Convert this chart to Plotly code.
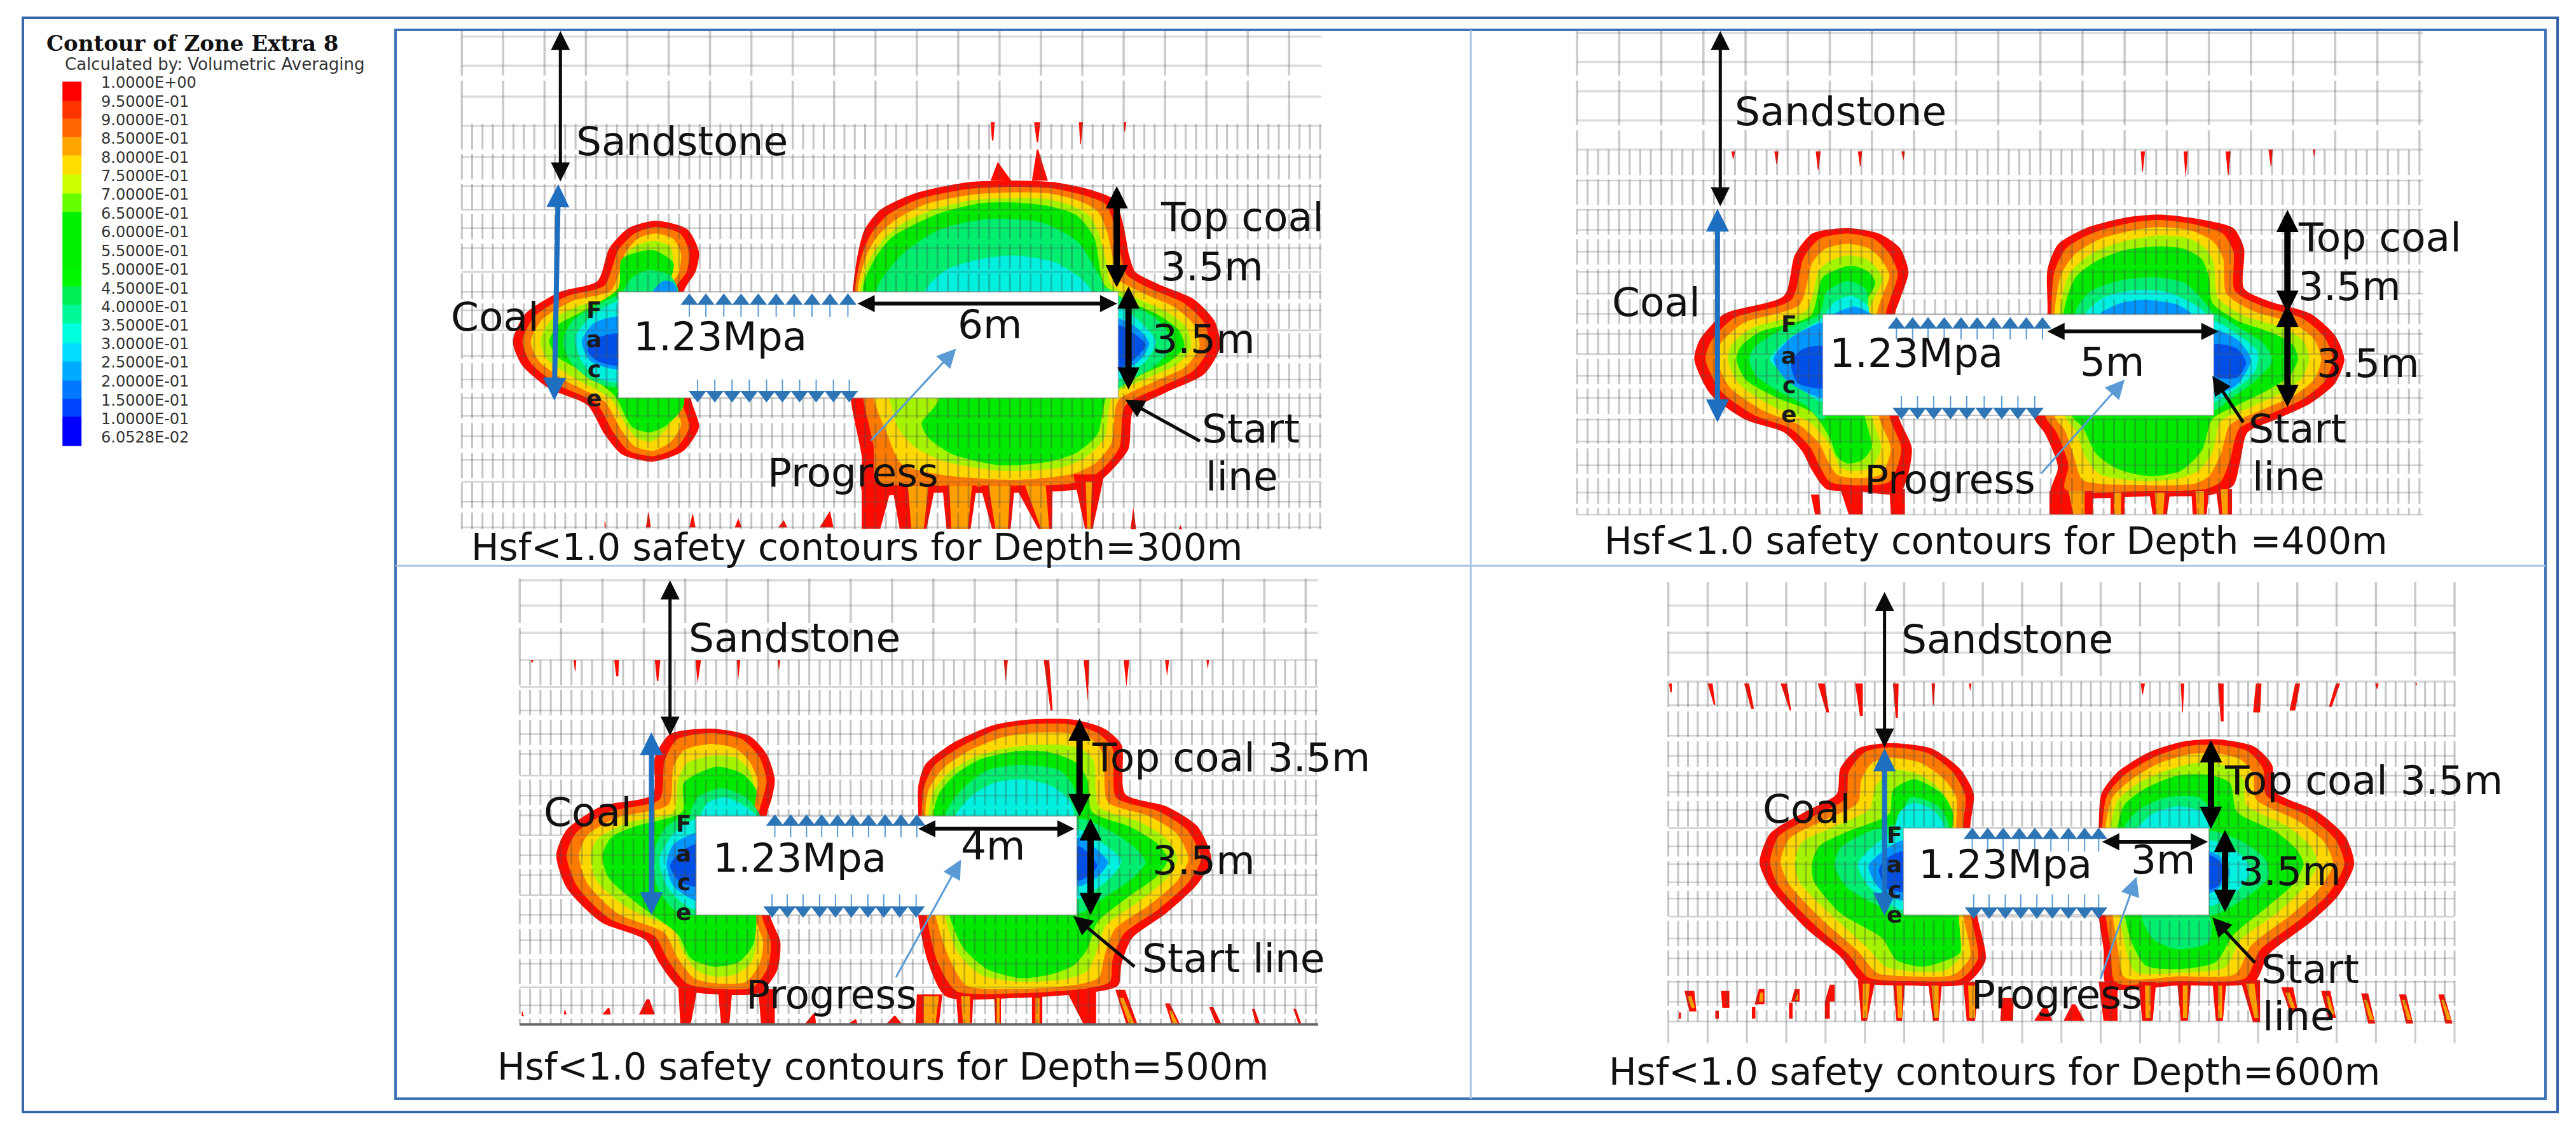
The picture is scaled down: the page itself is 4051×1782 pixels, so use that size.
"""Hsf<1.0 safety contours for four depths, drawn as filled outlines on a mesh."""
import plotly.graph_objects as go

W, H = 4051, 1782
UNITS = 1568
TEXT_FONT = "DejaVu Sans"

LEGEND_TITLE = "Contour of Zone Extra 8"
LEGEND_SUB = "Calculated by: Volumetric Averaging"
LEGEND_LABELS = ["1.0000E+00", "9.5000E-01", "9.0000E-01", "8.5000E-01", "8.0000E-01",
                 "7.5000E-01", "7.0000E-01", "6.5000E-01", "6.0000E-01", "5.5000E-01",
                 "5.0000E-01", "4.5000E-01", "4.0000E-01", "3.5000E-01", "3.0000E-01",
                 "2.5000E-01", "2.0000E-01", "1.5000E-01", "1.0000E-01", "6.0528E-02"]
LEGEND_Y = [268, 330, 390, 450, 512, 572, 632, 693, 754, 815, 875, 936, 996, 1057,
            1117, 1177, 1238, 1300, 1360, 1420]
LEGEND_EDGES = [265, 327, 385, 445, 505, 567, 628, 688, 750, 810, 870, 930, 990, 1050,
                1112, 1172, 1235, 1295, 1352, 1447]
LEGEND_COLORS = ["#ff0000", "#ff3300", "#ff6600", "#ffa500", "#ffdd00", "#ccff00", "#66ff00",
                 "#00f000", "#00f000", "#00f000", "#00f800", "#00ee55", "#00f899", "#00ffdd",
                 "#00ddff", "#00aaff", "#0077ff", "#0044ff", "#0000ff"]

BAND_COLORS = {"r": "#ff0c00", "o": "#ff7a00", "y": "#ffd800", "l": "#a4f400", "g": "#00ea00",
               "t": "#00ee70", "c": "#00f0e0", "s": "#0096ff", "b": "#0050e8"}
DRIP_CORE = "#ffa000"

# ---- depth 300 ----
LEFT_300 = [
    ("r", [(380,605),(425,628),(442,690),(437,745),(420,800),(430,1090),(442,1170),(420,1235),(375,1265),(330,1245),(305,1190),(280,1110),(225,1065),(185,1000),(172,935),(190,860),(240,800),(295,770),(312,680),(340,625)]),
    ("o", [(380,622),(415,640),(428,692),(424,745),(405,800),(415,1090),(428,1170),(410,1225),(375,1250),(340,1235),(318,1185),(293,1105),(238,1055),(198,995),(186,935),(203,868),(250,812),(305,782),(325,685),(350,638)]),
    ("y", [(380,640),(405,655),(416,695),(412,750),(395,800),(405,1090),(416,1165),(400,1212),(375,1235),(348,1222),(330,1180),(305,1100),(250,1045),(210,990),(198,935),(215,875),(258,825),(315,795),(336,690),(355,652)]),
    ("l", [(378,660),(400,675),(404,700),(400,760),(390,800),(395,1090),(400,1160),(385,1195),(372,1210),(352,1200),(338,1170),(315,1095),(260,1035),(222,985),(212,935),(226,880),(268,838),(322,808),(335,700),(352,672)]),
    ("g", [(375,685),(405,720),(402,760),(395,800),(420,1110),(395,1165),(370,1185),(345,1170),(320,1085),(275,1020),(235,975),(225,935),(238,890),(275,852),(325,790),(330,710)]),
    ("t", [(370,740),(400,755),(412,800),(325,1060),(285,1040),(255,990),(245,935),(258,880),(290,840),(330,800),(345,760)]),
    ("c", [(330,825),(290,860),(262,925),(275,1000),(300,1040),(330,1045)]),
    ("s", [(330,870),(290,885),(272,935),(285,990),(330,1010)]),
    ("b", [(330,915),(290,930),(280,960),(295,990),(330,1000)]),
    ("s", [(390,770),(405,775),(410,800),(375,800)]),
]
RIGHT_300 = [
    ("r", [(665,800),(672,700),(682,630),(705,575),(755,530),(830,500),(900,495),(960,500),(1010,520),(1045,548),(1058,620),(1066,700),(1075,745),(1110,780),(1160,820),(1190,880),(1198,950),(1175,1025),(1120,1075),(1072,1125),(1065,1230),(1040,1290),(1010,1335),(900,1350),(780,1350),(680,1350),(678,1250),(662,1090)]),
    ("o", [(668,800),(678,700),(692,640),(715,590),(762,545),(835,517),(900,512),(955,516),(1000,535),(1032,560),(1046,625),(1054,700),(1062,752),(1098,792),(1145,830),(1175,885),(1182,950),(1160,1015),(1110,1062),(1060,1112),(1052,1225),(1030,1280),(1000,1318),(900,1335),(780,1330),(700,1320),(695,1220),(680,1090)]),
    ("y", [(672,800),(684,705),(700,650),(725,605),(770,560),(840,533),(900,527),(950,530),(990,548),(1020,578),(1034,635),(1042,705),(1050,765),(1088,805),(1132,842),(1160,890),(1168,950),(1148,1005),(1100,1048),(1050,1098),(1040,1215),(1018,1268),(985,1298),(900,1315),(790,1300),(735,1270),(715,1190),(695,1090)]),
    ("l", [(676,800),(690,710),(710,655),(735,615),(780,575),(840,548),(900,543),(945,545),(985,565),(1010,595),(1022,640),(1032,710),(1040,780),(1078,818),(1118,852),(1148,895),(1156,950),(1136,998),(1090,1038),(1042,1085),(1030,1200),(1005,1250),(970,1280),(880,1290),(800,1265),(755,1225),(730,1170),(718,1090)]),
    ("g", [(680,800),(697,710),(722,650),(790,585),(850,557),(900,555),(950,565),(990,590),(1015,650),(1030,780),(1065,825),(1110,865),(1138,905),(1146,950),(1125,990),(1080,1030),(1035,1080),(1020,1190),(990,1240),(950,1265),(880,1275),(810,1245),(775,1200),(765,1160),(790,1090)]),
    ("t", [(700,800),(735,700),(790,630),(860,600),(940,610),(990,660),(1015,730),(1030,800)]),
    ("c", [(770,800),(800,740),(850,710),(900,700),(960,720),(1000,770),(1010,800)]),
    ("t", [(1030,790),(1065,830),(1110,880),(1130,945),(1105,1000),(1070,1040),(1035,1075)]),
    ("c", [(1040,830),(1075,870),(1105,935),(1090,990),(1060,1030),(1040,1050)]),
    ("s", [(1040,870),(1075,895),(1095,940),(1080,990),(1040,1020)]),
    ("b", [(1040,885),(1070,910),(1090,945),(1070,990),(1040,1015)]),
]
# spikes: x top-left, x top-right, y top, x bottom-left, x bottom-right, y bottom
SPIKES_300 = [(865,871,335,867,869,385),(928,937,335,932,934,390),(993,999,335,995,996,395),(1058,1062,335,1059,1060,360),
              (925,948,495,932,934,410),(865,895,495,875,876,445),
              (305,307,1445,305,306,1430),(365,372,1445,369,369,1400),(428,437,1445,433,433,1405),(494,504,1445,499,499,1420),(557,570,1445,565,565,1425),(617,637,1445,632,632,1400),
              (1068,1076,1450,1072,1072,1390),(1138,1143,1450,1140,1140,1438),
              (678,722,1330,678,705,1449),(722,785,1330,733,772,1449),(795,845,1330,801,836,1449),(850,900,1330,867,894,1449),(900,955,1330,934,954,1449),(985,1030,1300,1002,1013,1449)]
INNER_300 = [(745,775,1330,750,768,1449),(805,838,1330,808,832,1449),(862,894,1330,872,890,1449),(915,945,1330,938,950,1449),(1003,1012,1320,1005,1010,1449)]
CAVITY_300 = [325, 1050, 800, 1090]
PRESS_TOP_300 = [428, 452, 478, 503, 528, 554, 580, 606, 632, 658]
PRESS_BOT_300 = [440, 465, 490, 515, 540, 563, 588, 612, 637, 660]
PRESS_Y_300 = [868, 825, 1040, 1082]
ARROWS_300 = [(241, 500, 241, 85, "dim"), (232, 1100, 238, 505, "coal"), (1048, 790, 1048, 510, "thick"),
              (1065, 1070, 1065, 785, "thick"), (1050, 832, 672, 832, "width"),
              (1170, 1210, 1060, 1095, "lead"), (690, 1210, 815, 955, "prog")]
TEXTS_300 = [("Sandstone", 262, 388), ("Top coal", 1110, 595), ("3.5m", 1110, 730), ("Coal", 80, 868),
             ("1.23Mpa", 345, 922), ("6m", 815, 890), ("3.5m", 1098, 930), ("Progress", 540, 1295),
             ("Start", 1170, 1175), ("line", 1175, 1305)]
FACE_X_300, FACE_Y_300 = 290, [850, 930, 1012, 1092]
CAPTION_300 = ("Hsf<1.0 safety contours for Depth=300m", 110, 1500)
MESH_300 = dict(x=[98, 1345], top=85, mid=340, bot=1450, fine=(98, 1345, 15), floor=None, tail=None,
                coarse_h=[100, 180, 265, 345],
                fine_h=[430, 510, 575, 625, 680, 745, 800, 850, 905, 975, 1040, 1090, 1140, 1195, 1260, 1320, 1375, 1445])

# ---- depth 400 ----
LEFT_400 = [
    ("r", [(530,625),(575,640),(605,680),(617,745),(605,820),(598,860),(603,1140),(622,1230),(605,1350),(540,1345),(500,1340),(480,1290),(465,1235),(440,1185),(385,1150),(335,1080),(312,985),(320,930),(355,860),(440,810),(455,700),(480,640)]),
    ("o", [(530,640),(568,655),(590,695),(602,750),(592,815),(585,860),(590,1140),(607,1230),(590,1320),(540,1330),(505,1320),(490,1275),(477,1225),(450,1175),(398,1138),(350,1072),(328,985),(336,935),(368,872),(450,822),(468,705),(490,655)]),
    ("y", [(530,668),(560,680),(578,710),(590,755),(580,810),(572,860),(575,1140),(592,1230),(578,1300),(540,1310),(515,1300),(502,1262),(490,1215),(462,1165),(410,1125),(362,1060),(344,985),(350,940),(382,885),(462,835),(480,720),(498,682)]),
    ("l", [(530,700),(555,708),(570,730),(580,765),(570,810),(560,860),(565,1140),(578,1225),(565,1280),(535,1290),(520,1280),(512,1250),(500,1205),(475,1155),(422,1112),(375,1050),(360,985),(365,945),(395,898),(472,850),(490,740),(505,715)]),
    ("g", [(535,728),(560,745),(570,775),(560,815),(550,860),(555,1140),(565,1225),(550,1262),(530,1270),(515,1250),(505,1200),(480,1130),(430,1090),(385,1040),(372,985),(378,950),(405,910),(478,865),(495,760)]),
    ("t", [(530,770),(555,790),(560,830),(550,860),(495,1150),(470,1110),(430,1070),(400,1030),(390,985),(398,950),(430,910),(490,860),(500,800)]),
    ("c", [(535,810),(560,840),(560,865),(495,1100),(450,1040),(420,985),(445,930),(495,870),(510,830)]),
    ("s", [(500,885),(450,925),(425,985),(445,1045),(500,1090)]),
    ("b", [(500,950),(465,958),(450,1000),(460,1050),(500,1062)]),
    ("s", [(540,840),(565,862),(510,862)]),
]
RIGHT_400 = [
    ("r", [(815,860),(815,740),(830,670),(870,625),(930,595),(975,588),(1030,600),(1080,625),(1095,680),(1095,790),(1130,825),(1190,860),(1225,920),(1238,985),(1225,1050),(1190,1105),(1140,1150),(1100,1185),(1090,1260),(1080,1330),(1050,1355),(960,1360),(820,1355),(830,1280),(812,1190),(795,1140)]),
    ("o", [(820,860),(825,745),(842,680),(880,638),(935,610),(975,603),(1025,615),(1065,640),(1080,690),(1082,797),(1120,838),(1178,872),(1210,925),(1222,985),(1210,1045),(1178,1095),(1128,1138),(1088,1175),(1076,1255),(1062,1320),(1040,1340),(960,1345),(840,1340),(845,1275),(828,1185),(812,1140)]),
    ("y", [(825,860),(835,750),(855,695),(890,655),(940,630),(975,622),(1020,632),(1050,660),(1065,705),(1070,805),(1108,852),(1165,885),(1195,930),(1205,985),(1195,1040),(1165,1085),(1115,1128),(1075,1165),(1062,1245),(1045,1305),(1025,1325),(960,1330),(865,1315),(855,1265),(840,1180),(825,1140)]),
    ("l", [(832,860),(845,755),(870,705),(905,672),(945,652),(975,645),(1015,652),(1040,680),(1052,720),(1058,815),(1095,865),(1150,898),(1180,935),(1188,985),(1178,1035),(1150,1075),(1102,1118),(1062,1155),(1050,1240),(1030,1290),(1000,1312),(950,1318),(890,1300),(870,1255),(855,1180),(840,1140)]),
    ("g", [(838,860),(855,760),(885,715),(925,685),(975,675),(1010,682),(1035,710),(1045,760),(1050,830),(1085,878),(1135,912),(1165,945),(1172,985),(1160,1030),(1130,1068),(1088,1108),(1050,1148),(1035,1235),(1005,1290),(960,1305),(915,1285),(885,1245),(865,1170),(850,1140)]),
    ("t", [(855,860),(875,800),(920,768),(970,760),(1010,775),(1040,830),(1050,860)]),
    ("c", [(870,860),(895,815),(940,795),(985,800),(1030,840),(1040,860)]),
    ("s", [(890,860),(920,830),(955,822),(1000,835),(1020,860)]),
    ("t", [(1050,860),(1090,900),(1125,945),(1135,990),(1110,1045),(1075,1095),(1050,1125)]),
    ("c", [(1050,880),(1085,915),(1115,965),(1110,1020),(1080,1070),(1050,1100)]),
    ("s", [(1050,905),(1085,930),(1105,985),(1085,1055),(1050,1080)]),
    ("b", [(1052,945),(1085,955),(1098,995),(1085,1035),(1052,1030)]),
]
SPIKES_400 = [(365,370,415,367,368,435),(426,432,415,429,430,450),(485,492,415,488,489,465),(545,551,415,548,549,455),(607,612,415,610,610,440),
              (948,954,415,950,951,470),(1009,1015,415,1012,1012,490),(1069,1076,415,1072,1073,480),(1130,1136,410,1133,1134,455),(1193,1197,410,1195,1195,430),
              (478,490,1355,484,492,1410),(520,552,1340,532,552,1410),(590,612,1340,592,612,1410),
              (818,880,1345,818,880,1410),(905,925,1350,905,925,1410),(960,990,1350,965,985,1410),(1020,1045,1345,1022,1042,1410),(1055,1078,1340,1060,1078,1410)]
INNER_400 = [(845,868,1345,852,868,1410),(910,920,1350,910,920,1410),(968,982,1350,970,980,1410),(1026,1038,1345,1028,1038,1410),(1062,1072,1340,1064,1072,1410)]
CAVITY_400 = [495, 1052, 862, 1138]
PRESS_TOP_400 = [600, 623, 645, 668, 692, 715, 738, 762, 785, 808]
PRESS_BOT_400 = [607, 630, 653, 677, 700, 725, 750, 773, 797]
PRESS_Y_400 = [930, 890, 1085, 1128]
ARROWS_400 = [(349, 568, 349, 85, "dim"), (345, 1160, 345, 572, "coal"), (1157, 860, 1157, 575, "thick"),
              (1157, 1118, 1157, 835, "thick"), (1060, 908, 815, 908, "width"),
              (1095, 1160, 1050, 1030, "lead"), (805, 1300, 925, 1040, "prog")]
TEXTS_400 = [("Sandstone", 368, 305), ("Coal", 193, 828), ("Top coal", 1170, 650), ("3.5m", 1170, 785),
             ("3.5m", 1197, 995), ("1.23Mpa", 503, 968), ("5m", 860, 992), ("Progress", 553, 1315),
             ("Start", 1100, 1175), ("line", 1105, 1305)]
FACE_X_400, FACE_Y_400 = 447, [888, 975, 1055, 1135]
CAPTION_400 = ("Hsf<1.0 safety contours for Depth =400m", 182, 1482)
MESH_400 = dict(x=[145, 1350], top=85, mid=410, bot=1410, fine=(145, 1350, 15), floor=None, tail=None,
                coarse_h=[90, 170, 250, 330, 410],
                fine_h=[495, 575, 630, 690, 745, 805, 860, 915, 970, 1030, 1090, 1150, 1210, 1275, 1350, 1410])

# ---- depth 500 ----
LEFT_500 = [
    ("r", [(460,450),(515,470),(540,520),(552,590),(548,640),(540,692),(545,965),(560,1040),(555,1120),(530,1180),(470,1185),(415,1170),(385,1100),(365,1035),(300,985),(250,890),(235,800),(250,730),(300,665),(375,632),(378,530),(400,465)]),
    ("o", [(460,462),(505,480),(530,530),(540,595),(535,640),(528,692),(533,965),(546,1040),(542,1110),(520,1165),(470,1170),(425,1155),(397,1090),(378,1025),(312,975),(265,885),(250,800),(264,738),(312,680),(385,645),(392,540),(410,480)]),
    ("y", [(460,492),(495,505),(515,540),(528,600),(523,640),(515,692),(522,965),(535,1040),(530,1100),(510,1150),(470,1155),(435,1140),(410,1080),(392,1015),(325,962),(280,878),(268,800),(280,745),(325,695),(398,660),(405,555),(420,510)]),
    ("l", [(460,525),(495,530),(515,565),(522,610),(515,640),(505,692),(512,965),(525,1040),(518,1095),(495,1130),(465,1135),(440,1120),(418,1065),(405,1005),(338,945),(293,870),(285,800),(295,755),(338,710),(405,680),(412,590),(425,545)]),
    ("g", [(468,555),(505,575),(525,620),(520,692),(525,1000),(520,1050),(500,1095),(465,1108),(430,1085),(412,1020),(350,930),(310,860),(302,800),(315,750),(350,720),(418,680),(420,600)]),
    ("t", [(438,690),(395,720),(375,800),(380,880),(405,950),(438,965)]),
    ("t", [(430,692),(440,640),(475,615),(510,640),(530,692)]),
    ("c", [(440,700),(405,740),(385,810),(395,885),(420,935),(440,950)]),
    ("c", [(445,692),(455,655),(480,640),(505,660),(525,692)]),
    ("s", [(440,740),(405,770),(395,825),(405,885),(440,925)]),
    ("b", [(440,770),(415,790),(400,830),(415,875),(440,885)]),
]
RIGHT_500 = [
    ("r", [(760,692),(760,610),(770,550),(810,490),(870,440),(920,425),(985,425),(1030,450),(1055,495),(1060,630),(1120,665),(1165,720),(1185,810),(1165,880),(1120,960),(1070,1030),(1055,1100),(1050,1160),(1010,1180),(900,1195),(800,1190),(775,1100),(760,965)]),
    ("o", [(765,692),(768,615),(782,555),(820,502),(875,452),(920,438),(980,438),(1020,462),(1042,505),(1047,640),(1108,678),(1150,730),(1170,810),(1152,875),(1108,950),(1058,1018),(1042,1090),(1038,1150),(1005,1168),(900,1182),(815,1175),(788,1095),(772,965)]),
    ("y", [(770,692),(775,620),(795,562),(830,515),(880,475),(925,462),(975,462),(1010,478),(1028,520),(1035,652),(1095,692),(1135,740),(1152,810),(1136,870),(1095,938),(1045,1005),(1030,1080),(1022,1138),(990,1158),(900,1170),(830,1160),(805,1085),(785,965)]),
    ("l", [(775,692),(782,625),(805,570),(840,530),(885,505),(930,495),(970,495),(1000,510),(1015,540),(1022,665),(1082,708),(1120,755),(1136,810),(1120,865),(1080,928),(1032,995),(1018,1070),(1005,1120),(975,1142),(905,1150),(850,1130),(818,1070),(798,965)]),
    ("g", [(782,692),(790,630),(815,575),(850,535),(905,512),(950,515),(990,545),(1005,590),(1012,680),(1068,722),(1108,770),(1122,812),(1105,860),(1065,915),(1020,985),(1005,1060),(985,1105),(955,1128),(910,1140),(860,1115),(825,1055),(805,965)]),
    ("t", [(800,692),(820,625),(860,565),(910,550),(965,565),(985,610),(992,692)]),
    ("c", [(815,692),(835,640),(870,600),(915,590),(955,610),(980,650),(985,692)]),
    ("t", [(992,700),(1040,735),(1075,780),(1090,820),(1070,865),(1035,910),(992,960)]),
    ("c", [(992,730),(1030,770),(1055,815),(1040,860),(992,920)]),
    ("s", [(992,750),(1020,785),(1035,820),(1020,860),(992,885)]),
    ("b", [(992,775),(1010,800),(1020,830),(1005,860),(992,870)]),
]
SPIKES_500 = [(198,202,260,200,200,270),(260,264,260,262,263,290),(319,326,260,322,325,305),(378,386,260,381,383,318),(437,445,260,440,440,325),(497,502,260,499,499,315),(556,560,260,558,558,288),
              (884,890,260,887,887,320),(942,950,260,952,955,400),(1000,1008,260,1006,1006,375),(1058,1066,260,1062,1062,335),(1118,1124,260,1121,1121,305),(1178,1182,260,1180,1180,285),
              (185,188,1245,185,186,1232),(246,250,1240,247,248,1228),(302,314,1240,310,312,1222),(355,378,1240,366,370,1198),
              (412,440,1165,415,430,1268),(470,490,1180,474,486,1268),(528,552,1170,532,552,1268),
              (595,612,1268,608,610,1238),(658,672,1268,668,670,1254),(713,737,1268,725,727,1244),
              (758,795,1185,756,790,1268),(815,840,1185,818,838,1268),(870,880,1190,872,880,1268),(925,940,1190,925,940,1268),(975,1018,1175,1000,1018,1268),
              (1046,1060,1172,1062,1078,1268),(1118,1125,1210,1128,1140,1268),(1182,1188,1220,1192,1200,1268),(1244,1248,1225,1250,1256,1268),(1304,1308,1225,1312,1316,1268)]
INNER_500 = [(768,790,1190,768,785,1268),(822,835,1190,825,835,1268),(1052,1058,1195,1066,1074,1268),(1124,1128,1230,1130,1137,1268),(930,936,1195,930,936,1268),(874,878,1195,874,878,1268)]
CAVITY_500 = [438, 990, 692, 965]
PRESS_TOP_500 = [552, 575, 598, 620, 643, 665, 688, 712, 735, 758]
PRESS_BOT_500 = [548, 570, 593, 617, 640, 663, 687, 710, 733, 757]
PRESS_Y_500 = [750, 708, 908, 952]
ARROWS_500 = [(400, 472, 400, 40, "dim"), (373, 968, 373, 460, "coal"), (994, 695, 994, 422, "thick"),
              (1010, 968, 1010, 698, "thick"), (988, 727, 760, 727, "width"),
              (1075, 1110, 985, 968, "lead"), (727, 1140, 822, 812, "prog")]
TEXTS_500 = [("Sandstone", 425, 200), ("Top coal 3.5m", 1010, 530), ("Coal", 215, 682), ("1.23Mpa", 460, 808),
             ("4m", 820, 775), ("3.5m", 1098, 815), ("Progress", 508, 1185), ("Start line", 1083, 1085)]
FACE_X_500, FACE_Y_500 = 420, [712, 795, 875, 958]
CAPTION_500 = ("Hsf<1.0 safety contours for Depth=500m", 148, 1385)
MESH_500 = dict(x=[182, 1340], top=35, mid=260, bot=1268, fine=(182, 1340, 15), floor=1268, tail=None,
                coarse_h=[40, 110, 185, 260],
                fine_h=[335, 400, 465, 520, 580, 635, 690, 745, 800, 855, 910, 965, 1035, 1100, 1165, 1215])

# ---- depth 600 ----
LEFT_600 = [
    ("r", [(590,490),(650,505),(690,560),(710,630),(705,725),(715,965),(727,1090),(700,1155),(620,1160),(550,1150),(520,1080),(470,1000),(420,890),(405,820),(420,740),(470,680),(515,630),(520,560),(545,505)]),
    ("o", [(590,502),(645,518),(680,570),(698,635),(695,725),(706,965),(716,1085),(692,1142),(620,1148),(560,1138),(532,1075),(482,990),(432,885),(420,820),(432,748),(482,692),(528,642),(532,570),(555,515)]),
    ("y", [(590,530),(635,545),(668,590),(685,640),(685,725),(695,965),(705,1080),(682,1130),(620,1135),(572,1125),(545,1065),(495,980),(447,880),(435,820),(447,755),(495,705),(545,655),(550,590),(565,545)]),
    ("l", [(595,565),(630,575),(658,610),(675,655),(675,725),(685,965),(693,1075),(670,1118),(625,1122),(585,1108),(558,1055),(510,970),(462,875),(455,820),(465,765),(510,722),(562,672),(570,610)]),
    ("g", [(625,590),(665,630),(680,680),(680,725),(690,1000),(690,1070),(660,1098),(635,1108),(600,1090),(580,1030),(520,960),(482,870),(480,820),(490,775),(530,735),(590,685),(595,620)]),
    ("t", [(620,640),(660,665),(675,725),(610,960),(575,940),(530,890),(512,830),(520,780),(560,735),(600,710)]),
    ("c", [(625,655),(655,680),(668,725),(600,725),(605,680)]),
    ("c", [(610,730),(570,770),(545,825),(560,885),(590,935),(610,950)]),
    ("s", [(610,760),(580,790),(560,830),(575,890),(610,925)]),
    ("b", [(610,790),(585,810),(575,840),(585,890),(610,900)]),
]
RIGHT_600 = [
    ("r", [(888,725),(892,630),(915,570),(960,515),(1010,485),(1060,480),(1110,500),(1135,550),(1140,625),(1200,680),(1240,750),(1252,825),(1230,910),(1190,985),(1130,1075),(1110,1150),(1000,1160),(900,1165),(895,1060),(888,965)]),
    ("o", [(893,725),(900,635),(925,578),(968,528),(1015,498),(1058,495),(1100,512),(1122,560),(1127,635),(1188,692),(1226,758),(1238,825),(1216,905),(1177,975),(1118,1062),(1097,1140),(1000,1148),(912,1152),(905,1055),(898,965)]),
    ("y", [(898,725),(908,640),(935,590),(975,545),(1020,520),(1055,518),(1090,535),(1108,575),(1112,645),(1172,705),(1210,765),(1222,825),(1200,898),(1162,965),(1105,1050),(1083,1128),(1000,1135),(925,1138),(915,1050),(908,965)]),
    ("l", [(905,725),(915,650),(945,600),(985,565),(1025,545),(1052,545),(1080,560),(1095,595),(1098,660),(1155,718),(1190,775),(1200,825),(1180,890),(1145,955),(1090,1035),(1068,1110),(1000,1125),(940,1122),(925,1045),(918,965)]),
    ("g", [(915,725),(925,660),(955,615),(1000,580),(1045,578),(1075,600),(1085,680),(1140,735),(1170,785),(1180,825),(1165,880),(1130,940),(1080,1020),(1055,1095),(1000,1115),(955,1105),(935,1040),(925,965)]),
    ("t", [(925,725),(945,675),(985,640),(1030,640),(1050,680),(1050,725)]),
    ("c", [(945,725),(965,685),(1000,665),(1035,680),(1045,725)]),
    ("t", [(1045,735),(1090,760),(1125,810),(1130,860),(1110,900),(1070,950),(1045,965)]),
    ("c", [(1045,760),(1085,790),(1105,840),(1085,900),(1045,940)]),
    ("s", [(1045,790),(1065,810),(1075,850),(1060,890),(1045,905)]),
    ("b", [(1045,800),(1060,815),(1068,850),(1058,885),(1045,895)]),
    ("t", [(950,965),(1045,965),(1045,1040),(1000,1060),(965,1030)]),
]
SPIKES_600 = [(276,280,325,278,280,350),(331,338,325,340,342,385),(383,390,325,393,397,395),(435,444,325,448,450,400),(488,498,325,500,504,405),(541,552,325,548,552,415),(595,603,325,599,602,420),(650,655,325,652,653,385),(703,707,325,705,705,345),
              (948,954,325,950,951,355),(1005,1010,325,1007,1008,405),(1058,1066,325,1062,1066,430),(1112,1120,325,1108,1118,405),(1168,1175,325,1160,1168,400),(1226,1232,325,1216,1220,390),(1282,1287,325,1284,1285,340),(1339,1342,325,1340,1341,330),
              (298,312,1175,305,315,1232),(350,362,1175,352,362,1222),(404,412,1170,398,412,1212),(455,462,1170,450,462,1205),(505,512,1158,498,512,1205),
              (290,293,1235,290,293,1252),(342,347,1230,342,347,1252),(394,399,1220,394,399,1252),(447,452,1208,447,452,1252),(498,505,1205,498,505,1252),
              (545,570,1145,550,558,1258),(595,612,1150,600,608,1258),(645,665,1150,652,660,1258),(695,718,1150,700,712,1258),
              (750,767,1195,748,766,1258),(808,815,1222,796,822,1258),(850,855,1212,838,868,1258),
              (888,915,1150,895,915,1258),(945,970,1150,950,965,1258),(1000,1020,1150,1005,1015,1258),(1050,1070,1150,1055,1065,1258),(1090,1118,1145,1108,1118,1262),
              (1148,1165,1165,1160,1172,1232),(1205,1218,1175,1215,1226,1250),(1262,1272,1182,1272,1282,1265),(1316,1326,1185,1326,1336,1265),(1372,1380,1185,1382,1392,1265)]
INNER_600 = [(552,562,1155,552,558,1250),(600,608,1160,602,608,1250),(650,660,1160,654,660,1250),(702,712,1160,704,712,1250),(954,962,1160,955,962,1250),(1008,1015,1160,1008,1014,1250),(1058,1064,1160,1058,1064,1250),(1098,1110,1155,1110,1116,1250),(1154,1160,1180,1162,1168,1222),(1212,1216,1190,1218,1224,1240),(1266,1270,1200,1274,1280,1255),(1320,1324,1200,1328,1334,1255),(1376,1380,1200,1384,1390,1255),(302,308,1190,308,313,1222),(406,410,1180,404,410,1205),(460,460,1180,455,460,1200)]
CAVITY_600 = [610, 1045, 725, 965]
PRESS_TOP_600 = [708, 730, 752, 775, 797, 820, 845, 868, 888]
PRESS_BOT_600 = [710, 732, 755, 777, 800, 822, 845, 868, 888]
PRESS_Y_600 = [790, 745, 908, 955]
ARROWS_600 = [(583, 505, 583, 72, "dim"), (583, 970, 583, 505, "coal"), (1048, 730, 1048, 482, "thick"),
              (1068, 960, 1068, 730, "thick"), (1045, 763, 893, 763, "width"),
              (1112, 1100, 1050, 972, "lead"), (890, 1145, 942, 860, "prog")]
TEXTS_600 = [("Sandstone", 605, 203), ("Top coal 3.5m", 1065, 593), ("Coal", 408, 672), ("1.23Mpa", 630, 825),
             ("3m", 932, 813), ("3.5m", 1085, 845), ("Progress", 705, 1185), ("Start", 1118, 1115), ("line", 1120, 1245)]
FACE_X_600, FACE_Y_600 = 597, [745, 825, 895, 965]
CAPTION_600 = ("Hsf<1.0 safety contours for Depth=600m", 188, 1400)
MESH_600 = dict(x=[275, 1395], top=45, mid=320, bot=1260, fine=(275, 1395, 14), floor=None, tail=1320,
                coarse_h=[110, 185, 240, 320],
                fine_h=[385, 470, 525, 580, 625, 675, 725, 775, 825, 875, 920, 970, 1030, 1085, 1150, 1205, 1260])

ARROW_STYLES = {
    "dim": dict(color="#0a0a0a", width=5, both=True, size=1.2),
    "coal": dict(color="#1f6fc0", width=8, both=True, size=0.9),
    "thick": dict(color="#000000", width=10, both=True, size=0.7),
    "width": dict(color="#0a0a0a", width=6, both=True, size=0.9),
    "lead": dict(color="#0a0a0a", width=5, both=False, size=1.2),
    "prog": dict(color="#5b9bd5", width=3, both=False, size=2.0),
}

# crop boxes x, y, w, h; each panel gets its own axes mapped onto its box
PANELS = [
    dict(box=(620, 0, 1700, 900), left=LEFT_300, right=RIGHT_300, spikes=SPIKES_300, inner=INNER_300,
         cavity=CAVITY_300, top=PRESS_TOP_300, bot=PRESS_BOT_300, py=PRESS_Y_300, arrows=ARROWS_300,
         texts=TEXTS_300, fx=FACE_X_300, fy=FACE_Y_300, cap=CAPTION_300, mesh=MESH_300),
    dict(box=(2320, 0, 1731, 900), left=LEFT_400, right=RIGHT_400, spikes=SPIKES_400, inner=INNER_400,
         cavity=CAVITY_400, top=PRESS_TOP_400, bot=PRESS_BOT_400, py=PRESS_Y_400, arrows=ARROWS_400,
         texts=TEXTS_400, fx=FACE_X_400, fy=FACE_Y_400, cap=CAPTION_400, mesh=MESH_400),
    dict(box=(620, 890, 1700, 892), left=LEFT_500, right=RIGHT_500, spikes=SPIKES_500, inner=INNER_500,
         cavity=CAVITY_500, top=PRESS_TOP_500, bot=PRESS_BOT_500, py=PRESS_Y_500, arrows=ARROWS_500,
         texts=TEXTS_500, fx=FACE_X_500, fy=FACE_Y_500, cap=CAPTION_500, mesh=MESH_500),
    dict(box=(2320, 890, 1731, 892), left=LEFT_600, right=RIGHT_600, spikes=SPIKES_600, inner=INNER_600,
         cavity=CAVITY_600, top=PRESS_TOP_600, bot=PRESS_BOT_600, py=PRESS_Y_600, arrows=ARROWS_600,
         texts=TEXTS_600, fx=FACE_X_600, fy=FACE_Y_600, cap=CAPTION_600, mesh=MESH_600),
]
LEGEND_BOX = (0, 0, 700, 760)


def axes_for(box):
    x, y, w, h = box
    xa = dict(domain=[x / W, (x + w) / W], range=[0, UNITS], visible=False, fixedrange=True)
    ya = dict(domain=[1 - (y + h) / H, 1 - y / H], range=[UNITS, 0], visible=False, fixedrange=True)
    return xa, ya


def segs(pairs):
    xs, ys = [], []
    for x0, y0, x1, y1 in pairs:
        xs += [x0, x1, None]
        ys += [y0, y1, None]
    return xs, ys


def spike_path(spikes):
    xs, ys = [], []
    for xl, xr, yt, xbl, xbr, yb in spikes:
        xs += [xl, xr, xbr, xbl, xl, None]
        ys += [yt, yt, yb, yb, yt, None]
    return xs, ys


fig = go.Figure()
layout = {}
annotations = []


def label(text, x, y, size, xa, ya, font=TEXT_FONT, bold=False, color="#111111"):
    annotations.append(dict(text=f"<b>{text}</b>" if bold else text, x=x, y=y, xref=xa, yref=ya,
                            xanchor="left", yanchor="middle", showarrow=False,
                            font=dict(family=font, size=size, color=color)))


for i, p in enumerate(PANELS, start=1):
    xa_name, ya_name = f"x{i}", f"y{i}"
    xa, ya = axes_for(p["box"])
    xa["anchor"], ya["anchor"] = ya_name, xa_name
    layout[f"xaxis{i}"], layout[f"yaxis{i}"] = xa, ya
    on = dict(xaxis=xa_name, yaxis=ya_name, hoverinfo="skip", showlegend=False)

    # contour bands, outermost first
    for band, pts in p["left"] + p["right"]:
        xs, ys = zip(*pts)
        fig.add_trace(go.Scatter(x=list(xs) + [xs[0]], y=list(ys) + [ys[0]], mode="lines", fill="toself",
                                 fillcolor=BAND_COLORS[band],
                                 line=dict(width=0, shape="spline", smoothing=0.7), **on))
    for spikes, color in ((p["spikes"], BAND_COLORS["r"]), (p["inner"], DRIP_CORE)):
        xs, ys = spike_path(spikes)
        fig.add_trace(go.Scatter(x=xs, y=ys, mode="lines", fill="toself", fillcolor=color,
                                 line=dict(width=0), **on))

    # mesh goes over the bands so the columns show through
    m = p["mesh"]
    x0, x1 = m["x"]
    start, stop, step = m["fine"]
    fine_cols = list(range(start, stop + 1, step))
    coarse_cols = fine_cols[::4]
    xs, ys = segs([(x, m["mid"], x, m["bot"]) for x in fine_cols])
    fig.add_trace(go.Scatter(x=xs, y=ys, mode="lines",
                             line=dict(color="rgba(70,70,70,0.32)", width=3, dash="40px,7px"), **on))
    xs, ys = segs([(x, m["top"], x, m["mid"]) for x in coarse_cols])
    fig.add_trace(go.Scatter(x=xs, y=ys, mode="lines",
                             line=dict(color="rgba(90,90,90,0.32)", width=3.5, dash="70px,8px"), **on))
    xs, ys = segs([(x0, y, x1, y) for y in m["coarse_h"]])
    fig.add_trace(go.Scatter(x=xs, y=ys, mode="lines", line=dict(color="rgba(120,120,120,0.26)", width=3.5), **on))
    xs, ys = segs([(x0, y, x1, y) for y in m["fine_h"]])
    fig.add_trace(go.Scatter(x=xs, y=ys, mode="lines", line=dict(color="rgba(90,90,90,0.28)", width=2.5), **on))
    if m["tail"]:
        xs, ys = segs([(x, m["bot"], x, m["tail"]) for x in coarse_cols])
        fig.add_trace(go.Scatter(x=xs, y=ys, mode="lines", line=dict(color="rgba(90,90,90,0.32)", width=3), **on))
    if m["floor"]:
        fig.add_trace(go.Scatter(x=[x0, x1], y=[m["floor"]] * 2, mode="lines", line=dict(color="#666666", width=4), **on))

    # the mined-out cavity
    cx0, cx1, cy0, cy1 = p["cavity"]
    fig.add_trace(go.Scatter(x=[cx0, cx1, cx1, cx0, cx0], y=[cy0, cy0, cy1, cy1, cy0], mode="lines", fill="toself",
                             fillcolor="#ffffff", line=dict(color="rgba(150,150,150,0.6)", width=1.5), **on))

    # roof and floor pressure arrows
    t_stem, t_head, b_stem, b_head = p["py"]
    xs, ys = segs([(x, t_stem, x, t_head) for x in p["top"]] + [(x, b_stem, x, b_head) for x in p["bot"]])
    fig.add_trace(go.Scatter(x=xs, y=ys, mode="lines", line=dict(color="#5b9bd5", width=2), **on))
    fig.add_trace(go.Scatter(x=p["top"], y=[t_head] * len(p["top"]), mode="markers",
                             marker=dict(symbol="triangle-up", size=24, color="#2e75b6"), **on))
    fig.add_trace(go.Scatter(x=p["bot"], y=[b_head] * len(p["bot"]), mode="markers",
                             marker=dict(symbol="triangle-down", size=24, color="#2e75b6"), **on))

    for tx, ty, hx, hy, kind in p["arrows"]:
        st = ARROW_STYLES[kind]
        annotations.append(dict(text="", x=hx, y=hy, ax=tx, ay=ty, xref=xa_name, yref=ya_name,
                                axref=xa_name, ayref=ya_name, showarrow=True, arrowhead=2,
                                arrowside="end+start" if st["both"] else "end", arrowwidth=st["width"],
                                arrowsize=st["size"], startarrowhead=2, startarrowsize=st["size"],
                                arrowcolor=st["color"], standoff=0, startstandoff=0))
    for text, x, y in p["texts"]:
        label(text, x, y, 63, xa_name, ya_name)
    for ch, y in zip("Face", p["fy"]):
        annotations.append(dict(text=f"<b>{ch}</b>", x=p["fx"], y=y, xref=xa_name, yref=ya_name, showarrow=False,
                                font=dict(family=TEXT_FONT, size=36, color="#1a1a1a")))
    text, x, y = p["cap"]
    label(text, x, y, 58, xa_name, ya_name)

# legend panel
xa, ya = axes_for(LEGEND_BOX)
xa["anchor"], ya["anchor"] = "y5", "x5"
layout["xaxis5"], layout["yaxis5"] = xa, ya
n = len(LEGEND_COLORS)
fig.add_trace(go.Heatmap(z=[[k] for k in range(n)], x=[220, 288], y=LEGEND_EDGES, xaxis="x5", yaxis="y5",
                         colorscale=[[k / (n - 1), c] for k, c in enumerate(LEGEND_COLORS)], zmin=0, zmax=n - 1,
                         showscale=False, hoverinfo="skip"))
label(LEGEND_TITLE, 160, 140, 34, "x5", "y5", font="DejaVu Serif", bold=True, color="#111111")
label(LEGEND_SUB, 225, 208, 26, "x5", "y5", font="DejaVu Sans", color="#333333")
for text, y in zip(LEGEND_LABELS, LEGEND_Y):
    label(text, 352, y, 24, "x5", "y5", font="DejaVu Sans", color="#333333")


# frames and panel separators, in page pixels
def frame(x0, y0, x1, y1, color, width):
    return dict(type="rect", xref="paper", yref="paper", x0=x0 / W, x1=x1 / W, y0=1 - y1 / H, y1=1 - y0 / H,
                line=dict(color=color, width=width), layer="above")


shapes = [
    frame(36, 28, 4022, 1749, "#3566a8", 4),
    frame(622, 47, 4003, 1728, "#3f74b8", 4),
    frame(622, 890, 4003, 890, "#a9c3e2", 3),
    frame(2313, 47, 2313, 1728, "#a9c3e2", 3),
]

fig.update_layout(width=W, height=H, margin=dict(l=0, r=0, t=0, b=0), paper_bgcolor="white",
                  plot_bgcolor="rgba(0,0,0,0)", showlegend=False, annotations=annotations, shapes=shapes, **layout)
fig.write_html("out.html", post_script="document.body.style.margin='0';", config={"displayModeBar": False})
